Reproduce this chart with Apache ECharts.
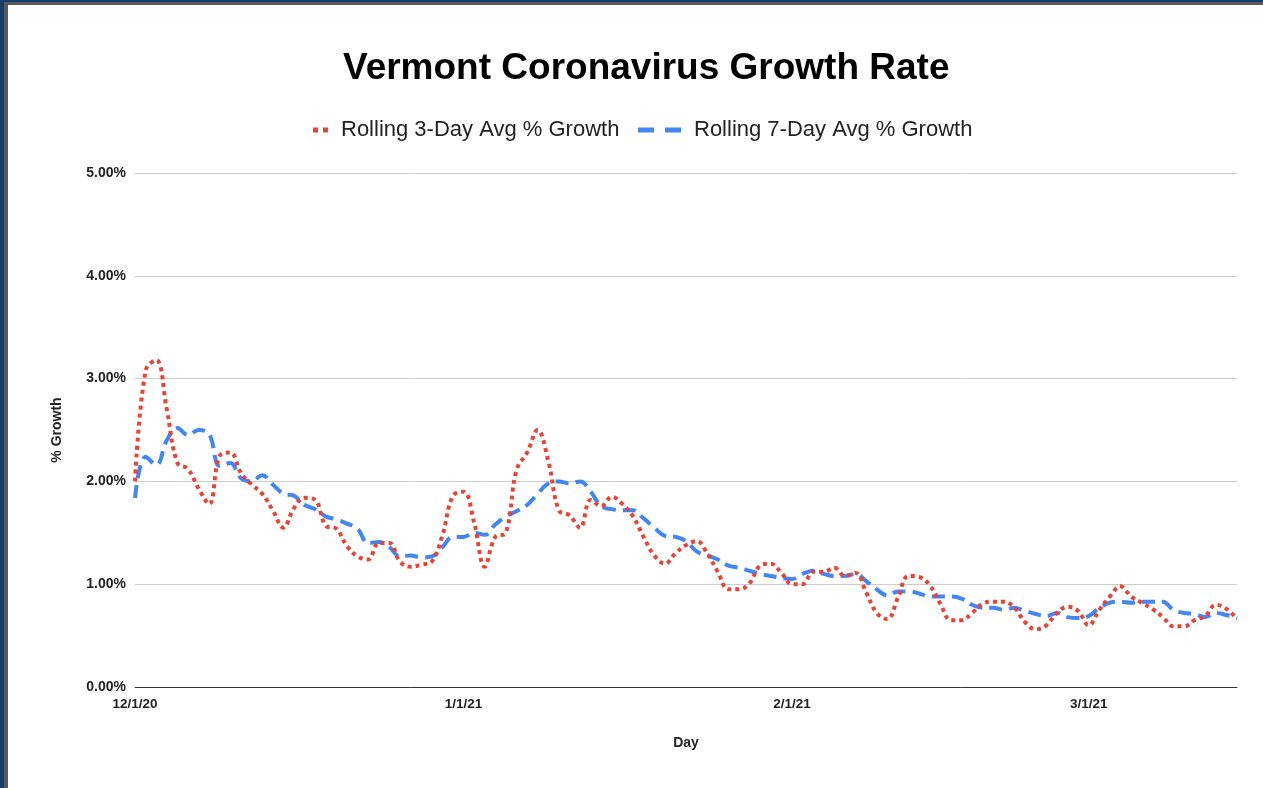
<!DOCTYPE html>
<html>
<head>
<meta charset="utf-8">
<script src="https://cdn.jsdelivr.net/npm/echarts@6/dist/echarts.min.js"></script>
<style>
  html, body { margin: 0; padding: 0; background: #fff; }
  #chart { position: absolute; left: 0; top: 0; width: 1263px; height: 788px; }
  .b1 { position: absolute; left: 0; top: 0; width: 4px; height: 788px; background: #163f6c; }
  .b2 { position: absolute; left: 4px; top: 0; width: 4px; height: 788px; background: #5a5a5a; }
  .b3 { position: absolute; left: 0; top: 0; width: 1263px; height: 2px; background: #163f6c; }
  .b4 { position: absolute; left: 4px; top: 2px; width: 1259px; height: 3px; background: #5a5a5a; }
</style>
</head>
<body>
<div id="chart"></div>
<div class="b1"></div><div class="b2"></div><div class="b3"></div><div class="b4"></div>
<script>
// Day labels: 12/1/20 through 3/15/21
const startDate = new Date(2020, 11, 1);
const numDays = 105;
const days = [];
for (let i = 0; i < numDays; i++) {
  const d = new Date(startDate.getFullYear(), startDate.getMonth(), startDate.getDate() + i);
  days.push((d.getMonth() + 1) + '/' + d.getDate() + '/' + String(d.getFullYear()).slice(2));
}
const tickLabels = ['12/1/20', '1/1/21', '2/1/21', '3/1/21'];
const yTicks = [0, 1, 2, 3, 4, 5];
const seriesNames = ['Rolling 3-Day Avg % Growth', 'Rolling 7-Day Avg % Growth'];

// Rolling 3-day average % growth (percent)
const rolling3 = [
  2.00, 3.08, 3.18, 2.70, 2.18, 2.12, 1.93, 1.78, 2.25, 2.28,
  2.08, 1.97, 1.88, 1.72, 1.55, 1.74, 1.84, 1.82, 1.57, 1.54,
  1.37, 1.27, 1.24, 1.40, 1.40, 1.22, 1.17, 1.19, 1.22, 1.47,
  1.86, 1.90, 1.60, 1.17, 1.46, 1.50, 2.11, 2.28, 2.50, 2.20,
  1.72, 1.67, 1.55, 1.82, 1.76, 1.85, 1.78, 1.66, 1.46, 1.28,
  1.20, 1.30, 1.38, 1.42, 1.30, 1.12, 0.95, 0.95, 1.01, 1.18,
  1.20, 1.11, 1.00, 1.00, 1.12, 1.12, 1.16, 1.08, 1.11, 0.92,
  0.72, 0.66, 0.87, 1.08, 1.07, 0.99, 0.81, 0.65, 0.65, 0.72,
  0.81, 0.83, 0.83, 0.77, 0.63, 0.56, 0.60, 0.72, 0.78, 0.74,
  0.60, 0.75, 0.88, 0.98, 0.88, 0.82, 0.76, 0.68, 0.59, 0.59,
  0.65, 0.69, 0.80, 0.76, 0.66
];

// Rolling 7-day average % growth (percent)
const rolling7 = [
  1.84, 2.24, 2.16, 2.40, 2.52, 2.45, 2.50, 2.46, 2.15, 2.18,
  2.03, 2.00, 2.06, 1.97, 1.88, 1.86, 1.77, 1.73, 1.66, 1.63,
  1.59, 1.54, 1.40, 1.41, 1.36, 1.27, 1.28, 1.26, 1.27, 1.36,
  1.46, 1.46, 1.50, 1.48, 1.58, 1.66, 1.71, 1.77, 1.88, 1.98,
  2.00, 1.98, 2.00, 1.90, 1.76, 1.73, 1.72, 1.72, 1.64, 1.55,
  1.47, 1.46, 1.42, 1.32, 1.28, 1.24, 1.18, 1.16, 1.13, 1.10,
  1.08, 1.06, 1.05, 1.10, 1.13, 1.10, 1.08, 1.08, 1.10, 1.03,
  0.95, 0.89, 0.93, 0.93, 0.91, 0.88, 0.88, 0.88, 0.86, 0.80,
  0.77, 0.77, 0.75, 0.77, 0.74, 0.71, 0.69, 0.72, 0.68, 0.67,
  0.69, 0.77, 0.82, 0.83, 0.82, 0.83, 0.83, 0.83, 0.75, 0.72,
  0.71, 0.68, 0.72, 0.70, 0.67
];

const chart = echarts.init(document.getElementById('chart'), null, { renderer: 'canvas' });
const FONT = '"Liberation Sans", Arial, sans-serif';
const legendText = { fontFamily: FONT, fontSize: 22, color: '#222' };

chart.setOption({
  backgroundColor: '#ffffff',
  animation: false,
  title: {
    text: 'Vermont Coronavirus Growth Rate',
    left: 338,
    top: 45,
    textStyle: { fontFamily: FONT, fontSize: 37, fontWeight: 'bold', color: '#000' }
  },
  legend: [
    {
      left: 308, top: 114,
      itemWidth: 31, itemHeight: 5,
      symbolKeepAspect: true,
      textStyle: legendText,
      data: [{ name: seriesNames[0], icon: 'path://M0,0h5v5h-5z M10,0h5v5h-5z' }]
    },
    {
      left: 633, top: 114,
      itemWidth: 59, itemHeight: 5,
      symbolKeepAspect: true,
      textStyle: legendText,
      data: [{ name: seriesNames[1], icon: 'path://M0,0h16v5h-16z M27,0h16v5h-16z' }]
    }
  ],
  grid: { left: 135, right: 26, top: 173, bottom: 101, containLabel: false },
  xAxis: {
    type: 'category',
    data: days,
    boundaryGap: false,
    name: 'Day',
    nameLocation: 'middle',
    nameGap: 49,
    nameTextStyle: { fontFamily: FONT, fontSize: 14, fontWeight: 'bold', color: '#222' },
    axisLine: { lineStyle: { color: '#333', width: 1 } },
    axisTick: { show: false },
    axisLabel: {
      interval: function (idx, val) { return tickLabels.indexOf(val) >= 0; },
      fontFamily: FONT, fontSize: 13.5, fontWeight: 'bold', color: '#222', margin: 10
    },
    splitLine: { show: false }
  },
  yAxis: {
    type: 'value',
    min: yTicks[0],
    max: yTicks[yTicks.length - 1],
    interval: 1,
    name: '% Growth',
    nameLocation: 'middle',
    nameGap: 71,
    nameTextStyle: { fontFamily: FONT, fontSize: 14, fontWeight: 'bold', color: '#222' },
    axisLine: { show: false },
    axisTick: { show: false },
    axisLabel: {
      formatter: function (v) { return v.toFixed(2) + '%'; },
      fontFamily: FONT, fontSize: 14, fontWeight: 'bold', color: '#222', margin: 9
    },
    splitLine: { lineStyle: { color: '#cccccc', width: 1 } }
  },
  series: [
    {
      name: seriesNames[0],
      type: 'line',
      data: rolling3,
      smooth: 0.4,
      showSymbol: false,
      symbol: 'none',
      itemStyle: { color: '#ea4335' },
      lineStyle: { color: '#ea4335', width: 4, type: [4, 4], cap: 'butt' },
      z: 3
    },
    {
      name: seriesNames[1],
      type: 'line',
      data: rolling7,
      smooth: 0.4,
      showSymbol: false,
      symbol: 'none',
      itemStyle: { color: '#4285f4' },
      lineStyle: { color: '#4285f4', width: 4, type: [13, 7], cap: 'butt' },
      z: 2
    }
  ]
});
</script>
</body>
</html>
